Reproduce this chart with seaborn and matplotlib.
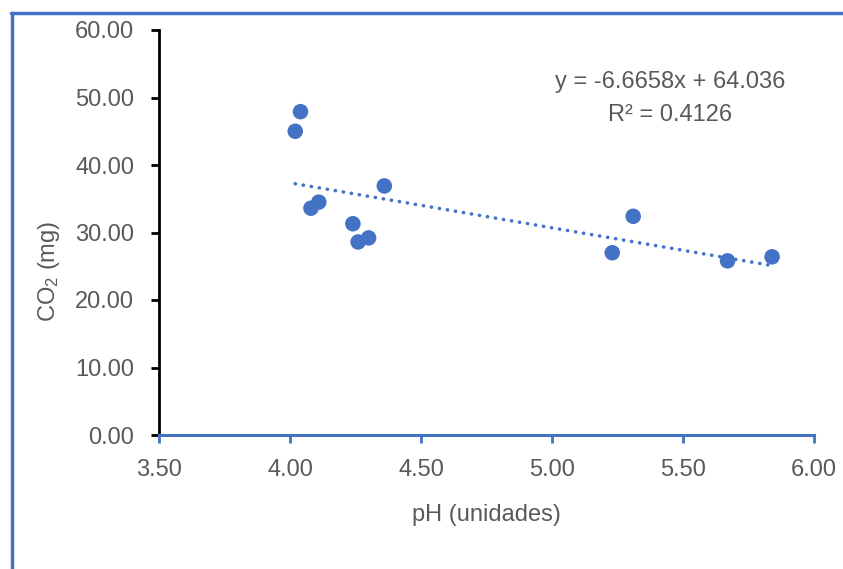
import matplotlib
matplotlib.use("Agg")
import matplotlib.pyplot as plt
from matplotlib.lines import Line2D
import pandas as pd
import seaborn as sns

# valores
ph = [4.02, 4.04, 4.08, 4.11, 4.24, 4.26, 4.30, 4.36, 5.23, 5.31, 5.67, 5.84]
co2 = [45.0, 47.9, 33.6, 34.5, 31.3, 28.6, 29.2, 36.9, 27.0, 32.4, 25.8, 26.4]
x_ticks = [3.5, 4.0, 4.5, 5.0, 5.5, 6.0]
y_ticks = [0, 10, 20, 30, 40, 50, 60]
ecuacion = "y = -6.6658x + 64.036"
r2 = "R² = 0.4126"

AZUL = "#4472C4"
GRIS = "#595959"
TAM = 17


def crear_grafico(df):
    fig = plt.figure(figsize=(8.43, 5.69), dpi=100)
    ax = fig.add_axes([159 / 843, 1 - 435 / 569, 655 / 843, 405 / 569])

    sns.regplot(
        data=df, x="ph", y="co2", ax=ax, scatter=False, ci=None, truncate=True,
        line_kws=dict(color=AZUL, lw=2.6, linestyle=(0, (0.05, 2.2)),
                      dash_capstyle="round"),
    )
    sns.scatterplot(data=df, x="ph", y="co2", ax=ax, color=AZUL, s=125,
                    edgecolor="none", zorder=3)

    ax.set_xlim(3.5, 6.0)
    ax.set_ylim(0, 60)
    ax.set_xticks(x_ticks)
    ax.set_yticks(y_ticks)
    ax.set_xticklabels([f"{v:.2f}" for v in x_ticks])
    ax.set_yticklabels([f"{v:.2f}" for v in y_ticks])

    for lado in ["top", "right"]:
        ax.spines[lado].set_visible(False)
    ax.spines["left"].set_color("black")
    ax.spines["left"].set_linewidth(2)
    ax.spines["bottom"].set_color(AZUL)
    ax.spines["bottom"].set_linewidth(2.2)
    ax.spines["bottom"].set_zorder(4)
    ax.tick_params(axis="y", left=True, colors="black", labelcolor=GRIS,
                   length=6, width=2, labelsize=TAM, pad=12)
    ax.tick_params(axis="x", bottom=True, colors=AZUL, labelcolor=GRIS,
                   length=6, width=2, labelsize=TAM, pad=11)

    ax.set_xlabel("pH (unidades)", color=GRIS, fontsize=TAM)
    ax.xaxis.set_label_coords(0.5, -(504 - 435) / 405)
    ax.set_ylabel("CO$_2$ (mg)", color=GRIS, fontsize=TAM)
    ax.yaxis.set_label_coords((62 - 159) / 655, (435 - 271) / 405)

    ax.text(0.78, (435 - 82) / 405, ecuacion, transform=ax.transAxes,
            ha="center", va="center", color=GRIS, fontsize=TAM)
    ax.text(0.78, (435 - 115) / 405, r2, transform=ax.transAxes,
            ha="center", va="center", color=GRIS, fontsize=TAM)

    # marco azul del recuadro
    fig.add_artist(Line2D([12 / 843, 12 / 843], [0, 1 - 13 / 569],
                          transform=fig.transFigure, color=AZUL, lw=2.5))
    fig.add_artist(Line2D([11 / 843, 1], [1 - 13 / 569, 1 - 13 / 569],
                          transform=fig.transFigure, color=AZUL, lw=2.5))

    fig.savefig("out.png", dpi=100)


if __name__ == "__main__":
    sns.set_style("white")
    plt.rcParams["font.family"] = ["Liberation Sans", "DejaVu Sans"]
    plt.rcParams["mathtext.fontset"] = "custom"
    plt.rcParams["mathtext.rm"] = "Liberation Sans"
    plt.rcParams["mathtext.it"] = "Liberation Sans"
    df = pd.DataFrame({"ph": ph, "co2": co2})
    crear_grafico(df)
